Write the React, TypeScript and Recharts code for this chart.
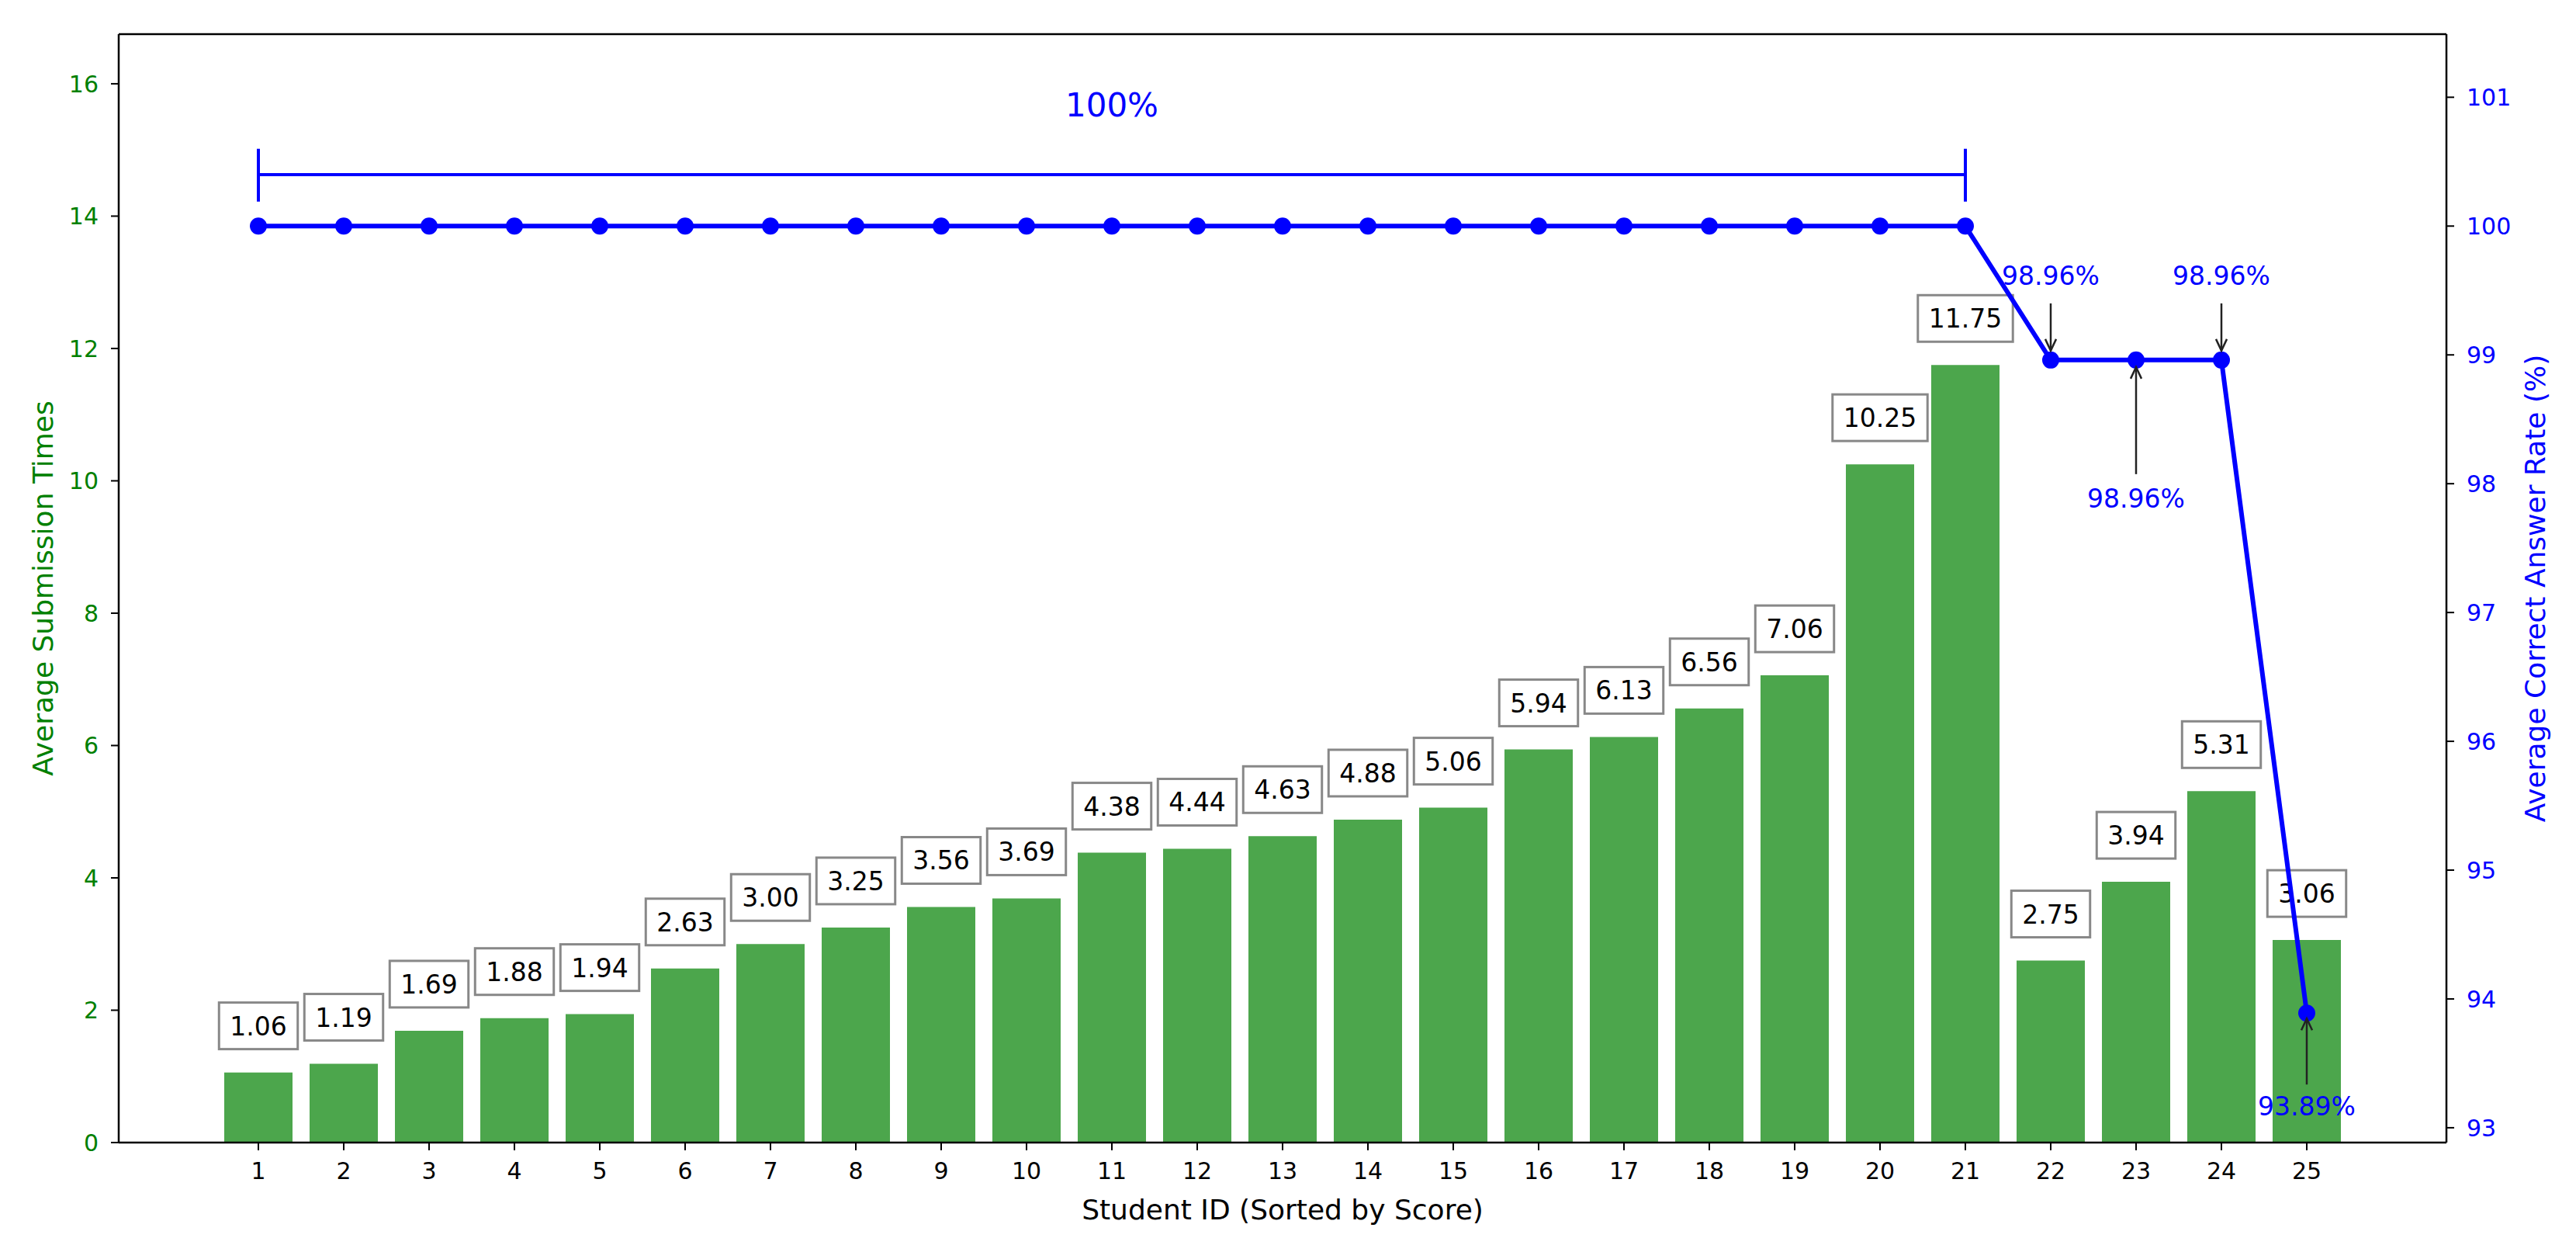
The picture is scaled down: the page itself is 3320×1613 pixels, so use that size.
import React from "react";
import {
  Bar,
  ComposedChart,
  LabelList,
  Line,
  ReferenceLine,
  Scatter,
  XAxis,
  YAxis,
} from "recharts";

const FONT = '"DejaVu Sans", sans-serif';

// student ids, sorted by score
const students = [
  "1", "2", "3", "4", "5", "6", "7", "8", "9", "10", "11", "12", "13",
  "14", "15", "16", "17", "18", "19", "20", "21", "22", "23", "24", "25",
];
const submissions = [
  1.06, 1.19, 1.69, 1.88, 1.94, 2.63, 3.0, 3.25, 3.56, 3.69, 4.38, 4.44, 4.63,
  4.88, 5.06, 5.94, 6.13, 6.56, 7.06, 10.25, 11.75, 2.75, 3.94, 5.31, 3.06,
];
const correctRate = [
  100, 100, 100, 100, 100, 100, 100, 100, 100, 100, 100, 100, 100, 100, 100,
  100, 100, 100, 100, 100, 100, 98.96, 98.96, 98.96, 93.89,
];
const leftTicks = [0, 2, 4, 6, 8, 10, 12, 14, 16];
const rightTicks = [93, 94, 95, 96, 97, 98, 99, 100, 101];

// bracket over the students that scored 100%
const fullFrom = "1";
const fullTo = "21";
const fullLabel = "100%";

const data = students.map((id, i) => ({
  id,
  submissions: submissions[i],
  rate: correctRate[i],
}));

// where each rate annotation goes, px relative to the point
const notes: Record<string, { text: number; from: number; to: number }> = {
  "22": { text: -109, from: -73, to: -12 },
  "23": { text: 178, from: 147, to: 9 },
  "24": { text: -109, from: -73, to: -12 },
  "25": { text: 120, from: 92, to: 7 },
};

// value box above each bar (drawn as a scatter so the rate line passes over it)
function BarBox(props: any) {
  const { cx, cy, payload } = props;
  const label = Number(payload.submissions).toFixed(2);
  const fs = 33;
  const tw = label.split("").reduce((s, c) => s + (c === "." ? 0.318 : 0.636) * fs, 0);
  const w = tw + 28;
  const h = 60;
  const by = cy - 60;
  return (
    <g>
      <rect x={cx - w / 2} y={by - h / 2} width={w} height={h} fill="#fff" stroke="#888" strokeWidth={3} />
      <text x={cx} y={by + 12} textAnchor="middle" fontSize={fs} fontFamily={FONT} fill="#000">
        {label}
      </text>
    </g>
  );
}

function RateNote(props: any) {
  const { x, y, value, index } = props;
  const n = notes[students[index]];
  if (!n) return null;
  const tipY = y + n.to;
  const dir = n.to < 0 ? -1 : 1;
  return (
    <g>
      <line x1={x} y1={y + n.from} x2={x} y2={tipY} stroke="#222" strokeWidth={2.5} />
      <polyline
        points={`${x - 7},${tipY + dir * 15} ${x},${tipY} ${x + 7},${tipY + dir * 15}`}
        fill="none"
        stroke="#222"
        strokeWidth={2.5}
      />
      <text x={x} y={y + n.text + 12} textAnchor="middle" fontSize={33} fontFamily={FONT} fill="#0000ff">
        {`${Number(value).toFixed(2)}%`}
      </text>
    </g>
  );
}

const axisTitle = (text: string, color: string, dx: number) => (p: any) => {
  const vb = p.viewBox;
  const cx = vb.x + dx;
  const cy = vb.y + vb.height / 2;
  return (
    <text
      x={cx}
      y={cy}
      transform={`rotate(-90 ${cx} ${cy})`}
      textAnchor="middle"
      dominantBaseline="central"
      fontSize={36}
      fontFamily={FONT}
      fill={color}
    >
      {text}
    </text>
  );
};

export default function App() {
  return (
    <div style={{ position: "absolute", left: 0, top: 0, width: 3320, height: 1613, background: "#fff" }}>
      <ComposedChart
        width={3320}
        height={1613}
        data={data}
        margin={{ top: 44, right: 0, bottom: 0, left: 0 }}
        style={{ fontFamily: FONT }}
      >
        <XAxis
          dataKey="id"
          type="category"
          interval={0}
          height={141}
          padding={{ left: 125, right: 125 }}
          tickSize={10}
          tickMargin={16}
          tick={{ fill: "#000", fontSize: 30, fontFamily: FONT }}
          tickLine={{ stroke: "#000", strokeWidth: 2 }}
          axisLine={{ stroke: "#000", strokeWidth: 2.5 }}
          label={{
            content: (p: any) => (
              <text
                x={p.viewBox.x + p.viewBox.width / 2}
                y={p.viewBox.y + 86}
                textAnchor="middle"
                dominantBaseline="central"
                fontSize={36}
                fontFamily={FONT}
                fill="#000"
              >
                Student ID (Sorted by Score)
              </text>
            ),
          }}
        />
        <YAxis
          yAxisId="left"
          orientation="left"
          width={153}
          domain={[0, 16.75]}
          ticks={leftTicks}
          allowDataOverflow
          tickSize={10}
          tickMargin={16}
          tick={{ fill: "#008000", fontSize: 30, fontFamily: FONT }}
          tickLine={{ stroke: "#000", strokeWidth: 2 }}
          axisLine={{ stroke: "#000", strokeWidth: 2.5 }}
          label={{ content: axisTitle("Average Submission Times", "#008000", 55) }}
        />
        <YAxis
          yAxisId="right"
          orientation="right"
          width={167}
          domain={[92.885, 101.49]}
          ticks={rightTicks}
          allowDataOverflow
          tickSize={10}
          tickMargin={16}
          tick={{ fill: "#0000ff", fontSize: 30, fontFamily: FONT }}
          tickLine={{ stroke: "#000", strokeWidth: 2 }}
          axisLine={{ stroke: "#000", strokeWidth: 2.5 }}
          label={{ content: axisTitle("Average Correct Answer Rate (%)", "#0000ff", 114) }}
        />
        <ReferenceLine yAxisId="left" y={16.75} stroke="#000" strokeWidth={2.5} />
        <Bar yAxisId="left" dataKey="submissions" fill="#4ca64c" barSize={88} isAnimationActive={false} />
        <Scatter
          yAxisId="left"
          dataKey="submissions"
          shape={BarBox}
          isAnimationActive={false}
          {...({ zIndex: 350 } as any)}
        />
        <Line
          yAxisId="right"
          type="linear"
          dataKey="rate"
          stroke="#0000ff"
          strokeWidth={6}
          dot={{ r: 11, fill: "#0000ff", stroke: "#0000ff", strokeWidth: 0 }}
          activeDot={false}
          isAnimationActive={false}
        >
          <LabelList dataKey="rate" content={RateNote} />
        </Line>
        <ReferenceLine
          yAxisId="right"
          segment={[{ x: fullFrom, y: 100.4 }, { x: fullTo, y: 100.4 }]}
          stroke="#0000ff"
          strokeWidth={4}
          label={{
            content: (p: any) => (
              <text
                x={p.viewBox.x + p.viewBox.width / 2}
                y={p.viewBox.y - 90 + 15}
                textAnchor="middle"
                fontSize={42}
                fontFamily={FONT}
                fill="#0000ff"
              >
                {fullLabel}
              </text>
            ),
          }}
        />
        <ReferenceLine
          yAxisId="right"
          segment={[{ x: fullFrom, y: 100.19 }, { x: fullFrom, y: 100.6 }]}
          stroke="#0000ff"
          strokeWidth={4}
        />
        <ReferenceLine
          yAxisId="right"
          segment={[{ x: fullTo, y: 100.19 }, { x: fullTo, y: 100.6 }]}
          stroke="#0000ff"
          strokeWidth={4}
        />
      </ComposedChart>
    </div>
  );
}
